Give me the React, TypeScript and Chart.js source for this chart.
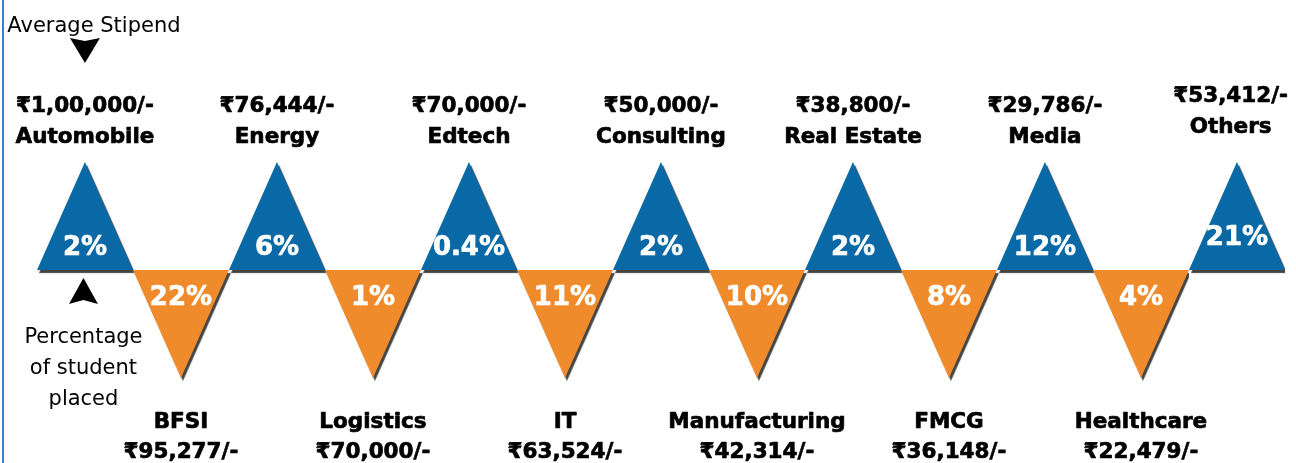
import React, { useEffect, useRef } from "react";
import { Chart, registerables } from "chart.js";

Chart.register(...registerables);

// ---- data ----
const industries = [
  "Automobile", "BFSI", "Energy", "Logistics", "Edtech", "IT", "Consulting",
  "Manufacturing", "Real Estate", "FMCG", "Media", "Healthcare", "Others",
];
const stipends = [100000, 95277, 76444, 70000, 70000, 63524, 50000, 42314, 38800, 36148, 29786, 22479, 53412];
const placedPct = [2, 22, 6, 1, 0.4, 11, 2, 10, 2, 8, 12, 4, 21];
const topCaption = "Average Stipend";
const bottomCaption = ["Percentage", "of student", "placed"];

const BLUE = "#0869A6";
const ORANGE = "#F08B2B";
const BOLD = "bold 21.5px 'DejaVu Sans', Verdana, sans-serif";

const isUp = (i: number) => i % 2 === 0;

function formatINR(n: number): string {
  const s = String(Math.round(n));
  if (s.length <= 3) return "₹" + s + "/-";
  const last3 = s.slice(-3);
  let rest = s.slice(0, -3);
  const parts: string[] = [];
  while (rest.length > 2) {
    parts.unshift(rest.slice(-2));
    rest = rest.slice(0, -2);
  }
  if (rest) parts.unshift(rest);
  return "₹" + parts.join(",") + "," + last3 + "/-";
}

function trianglePoints(up: boolean) {
  const pts: { x: number; y: number }[] = [];
  industries.forEach((_, i) => {
    if (isUp(i) !== up) return;
    pts.push({ x: i - 0.5, y: 0 }, { x: i, y: up ? 1 : -1 }, { x: i + 0.5, y: 0 });
  });
  return pts;
}

function boldText(ctx: CanvasRenderingContext2D, t: string, x: number, y: number, color: string) {
  ctx.fillStyle = color;
  ctx.strokeStyle = color;
  ctx.lineWidth = 0.7;
  ctx.lineJoin = "round";
  ctx.fillText(t, x, y);
  ctx.strokeText(t, x, y);
}

const shapePlugin = {
  id: "shapes",
  beforeDatasetsDraw(chart: any) {
    const ctx = chart.ctx;
    ctx.save();
    ctx.shadowColor = "rgba(35,35,35,0.85)";
    ctx.shadowOffsetX = 2;
    ctx.shadowOffsetY = 3;
    ctx.shadowBlur = 1;
  },
  afterDatasetsDraw(chart: any) {
    chart.ctx.restore();
  },
  afterDraw(chart: any) {
    const ctx = chart.ctx as CanvasRenderingContext2D;
    const xs = chart.scales.x;
    const ys = chart.scales.y;
    const yBase = ys.getPixelForValue(0);
    const yTop = ys.getPixelForValue(1);
    const yBot = ys.getPixelForValue(-1);
    const W = chart.width;
    ctx.save();
    ctx.textAlign = "center";
    ctx.textBaseline = "alphabetic";

    industries.forEach((name, i) => {
      const up = isUp(i);
      const lift = i === industries.length - 1 ? 10 : 0;
      const cx0 = xs.getPixelForValue(i);
      // percentage inside triangle
      ctx.font = "bold 26px 'DejaVu Sans', Verdana, sans-serif";
      boldText(ctx, placedPct[i] + "%", cx0, up ? yBase - 15 - lift : yBase + 35, "#ffffff");
      // labels
      ctx.font = BOLD;
      const money = formatINR(stipends[i]);
      const w = Math.max(ctx.measureText(money).width, ctx.measureText(name).width);
      const cx = Math.min(cx0, W - 8 - w / 2);
      if (up) {
        boldText(ctx, money, cx, yTop - 50 - lift, "#000000");
        boldText(ctx, name, cx, yTop - 19 - lift, "#000000");
      } else {
        boldText(ctx, name, cx, yBot + 50, "#000000");
        boldText(ctx, money, cx, yBot + 80, "#000000");
      }
    });

    // captions
    const x0 = xs.getPixelForValue(0);
    ctx.fillStyle = "#000000";
    ctx.font = "21px 'DejaVu Sans', Tahoma, sans-serif";
    ctx.fillText(topCaption, x0 + 9, 32);
    bottomCaption.forEach((line, k) => {
      ctx.fillText(line, x0 - 1.5, yBase + 73 + k * 31);
    });

    // arrows
    ctx.fillStyle = "#000000";
    ctx.beginPath();
    ctx.moveTo(x0 - 15, yTop - 124);
    ctx.lineTo(x0, yTop - 121);
    ctx.lineTo(x0 + 15, yTop - 124);
    ctx.lineTo(x0, yTop - 99);
    ctx.closePath();
    ctx.fill();

    ctx.beginPath();
    ctx.moveTo(x0 - 1.5, yBase + 8);
    ctx.lineTo(x0 + 13, yBase + 34);
    ctx.lineTo(x0 - 1.5, yBase + 30);
    ctx.lineTo(x0 - 16, yBase + 34);
    ctx.closePath();
    ctx.fill();

    // left border
    ctx.fillStyle = "#3C7DC0";
    ctx.fillRect(2, 0, 2, chart.height);
    ctx.restore();
  },
};

export default function App() {
  const ref = useRef<HTMLCanvasElement | null>(null);
  useEffect(() => {
    if (!ref.current) return;
    const chart = new Chart(ref.current, {
      type: "line",
      data: {
        datasets: [
          {
            label: "below",
            data: trianglePoints(false),
            borderWidth: 0,
            borderColor: "rgba(0,0,0,0)",
            backgroundColor: ORANGE,
            fill: "origin",
            pointRadius: 0,
            tension: 0,
          },
          {
            label: "above",
            data: trianglePoints(true),
            borderWidth: 0,
            borderColor: "rgba(0,0,0,0)",
            backgroundColor: BLUE,
            fill: "origin",
            pointRadius: 0,
            tension: 0,
          },
        ],
      },
      options: {
        animation: false,
        responsive: false,
        devicePixelRatio: 1,
        layout: { padding: 0 },
        plugins: { legend: { display: false }, tooltip: { enabled: false } },
        scales: {
          x: { type: "linear", display: false, min: -0.885, max: 12.615 },
          y: { type: "linear", display: false, min: -1.787, max: 2.5 },
        },
      },
      plugins: [shapePlugin],
    } as any);
    return () => chart.destroy();
  }, []);
  return (
    <div style={{ position: "fixed", left: 0, top: 0, width: 1296, height: 463, background: "#fff" }}>
      <canvas ref={ref} width={1296} height={463} style={{ display: "block" }} />
    </div>
  );
}
